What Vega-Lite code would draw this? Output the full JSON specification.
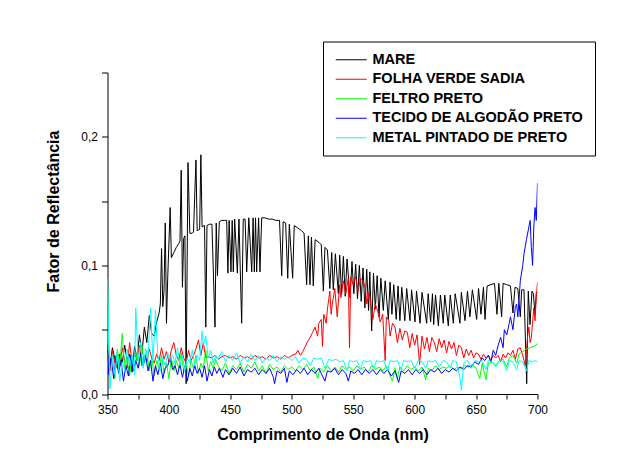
{
  "$schema": "https://vega.github.io/schema/vega-lite/v6.json",
  "width": 430,
  "height": 321.5,
  "autosize": {"type": "none"},
  "padding": {"left": 107.5, "top": 72.5, "right": 89.5, "bottom": 57},
  "background": "white",
  "config": {
    "view": {"stroke": null},
    "font": "Liberation Sans",
    "axis": {"grid": false, "domainColor": "black", "tickColor": "black", "labelColor": "black", "titleColor": "black", "labelFont": "Liberation Sans", "titleFont": "Liberation Sans", "labelFontSize": 12, "titleFontSize": 16, "titleFontWeight": "bold"}
  },
  "data": {"values": [
{"s":"MARE","w":350,"v":0.034},{"s":"MARE","w":352,"v":0.022},{"s":"MARE","w":354,"v":0.036},{"s":"MARE","w":356,"v":0.027},{"s":"MARE","w":358,"v":0.02},{"s":"MARE","w":360,"v":0.031},{"s":"MARE","w":362,"v":0.024},{"s":"MARE","w":364,"v":0.038},{"s":"MARE","w":366,"v":0.026},{"s":"MARE","w":368,"v":0.031},{"s":"MARE","w":370,"v":0.017},{"s":"MARE","w":372,"v":0.037},{"s":"MARE","w":374,"v":0.028},{"s":"MARE","w":376,"v":0.046},{"s":"MARE","w":378,"v":0.031},{"s":"MARE","w":380,"v":0.052},{"s":"MARE","w":382,"v":0.04},{"s":"MARE","w":384,"v":0.061},{"s":"MARE","w":386,"v":0.047},{"s":"MARE","w":388,"v":0.045},{"s":"MARE","w":390,"v":0.056},{"s":"MARE","w":392,"v":0.063},{"s":"MARE","w":393,"v":0.07},{"s":"MARE","w":394,"v":0.113},{"s":"MARE","w":395,"v":0.068},{"s":"MARE","w":396,"v":0.08},{"s":"MARE","w":397,"v":0.133},{"s":"MARE","w":398,"v":0.055},{"s":"MARE","w":399,"v":0.09},{"s":"MARE","w":401,"v":0.145},{"s":"MARE","w":402,"v":0.106},{"s":"MARE","w":404,"v":0.11},{"s":"MARE","w":406,"v":0.114},{"s":"MARE","w":408,"v":0.117},{"s":"MARE","w":409,"v":0.119},{"s":"MARE","w":410,"v":0.174},{"s":"MARE","w":411,"v":0.083},{"s":"MARE","w":412,"v":0.121},{"s":"MARE","w":413,"v":0.123},{"s":"MARE","w":414,"v":0.008},{"s":"MARE","w":415.5,"v":0.18},{"s":"MARE","w":417,"v":0.125},{"s":"MARE","w":419,"v":0.125},{"s":"MARE","w":420,"v":0.126},{"s":"MARE","w":422,"v":0.182},{"s":"MARE","w":423,"v":0.127},{"s":"MARE","w":425,"v":0.128},{"s":"MARE","w":426,"v":0.186},{"s":"MARE","w":427,"v":0.13},{"s":"MARE","w":429,"v":0.131},{"s":"MARE","w":430,"v":0.052},{"s":"MARE","w":431,"v":0.131},{"s":"MARE","w":433,"v":0.132},{"s":"MARE","w":435,"v":0.132},{"s":"MARE","w":437.5,"v":0.052},{"s":"MARE","w":438.5,"v":0.133},{"s":"MARE","w":439.5,"v":0.092},{"s":"MARE","w":441,"v":0.134},{"s":"MARE","w":443,"v":0.135},{"s":"MARE","w":445,"v":0.135},{"s":"MARE","w":447,"v":0.135},{"s":"MARE","w":448,"v":0.094},{"s":"MARE","w":449,"v":0.135},{"s":"MARE","w":450.5,"v":0.095},{"s":"MARE","w":451.5,"v":0.135},{"s":"MARE","w":452.4,"v":0.095},{"s":"MARE","w":453.5,"v":0.136},{"s":"MARE","w":455.7,"v":0.094},{"s":"MARE","w":457,"v":0.136},{"s":"MARE","w":459.2,"v":0.055},{"s":"MARE","w":460.5,"v":0.136},{"s":"MARE","w":462,"v":0.136},{"s":"MARE","w":463.3,"v":0.095},{"s":"MARE","w":465,"v":0.137},{"s":"MARE","w":467.4,"v":0.095},{"s":"MARE","w":468.5,"v":0.137},{"s":"MARE","w":469.5,"v":0.095},{"s":"MARE","w":470.5,"v":0.137},{"s":"MARE","w":471.4,"v":0.095},{"s":"MARE","w":473,"v":0.137},{"s":"MARE","w":474.1,"v":0.095},{"s":"MARE","w":475.5,"v":0.137},{"s":"MARE","w":478,"v":0.137},{"s":"MARE","w":481,"v":0.136},{"s":"MARE","w":484,"v":0.136},{"s":"MARE","w":487,"v":0.135},{"s":"MARE","w":490,"v":0.135},{"s":"MARE","w":491.8,"v":0.092},{"s":"MARE","w":493,"v":0.134},{"s":"MARE","w":495,"v":0.133},{"s":"MARE","w":496.7,"v":0.09},{"s":"MARE","w":498,"v":0.132},{"s":"MARE","w":500.7,"v":0.09},{"s":"MARE","w":502,"v":0.131},{"s":"MARE","w":505,"v":0.129},{"s":"MARE","w":508,"v":0.127},{"s":"MARE","w":510,"v":0.125},{"s":"MARE","w":512.1,"v":0.085},{"s":"MARE","w":513.5,"v":0.123},{"s":"MARE","w":514.8,"v":0.085},{"s":"MARE","w":516,"v":0.122},{"s":"MARE","w":517.5,"v":0.084},{"s":"MARE","w":519,"v":0.12},{"s":"MARE","w":522,"v":0.118},{"s":"MARE","w":524,"v":0.116},{"s":"MARE","w":525.7,"v":0.08},{"s":"MARE","w":527,"v":0.114},{"s":"MARE","w":529,"v":0.112},{"s":"MARE","w":531,"v":0.082},{"s":"MARE","w":532.5,"v":0.11},{"s":"MARE","w":533.8,"v":0.081},{"s":"MARE","w":535.5,"v":0.109},{"s":"MARE","w":537.9,"v":0.078},{"s":"MARE","w":539,"v":0.108},{"s":"MARE","w":540.5,"v":0.077},{"s":"MARE","w":542,"v":0.107},{"s":"MARE","w":543.5,"v":0.076},{"s":"MARE","w":545,"v":0.105},{"s":"MARE","w":547.4,"v":0.075},{"s":"MARE","w":549,"v":0.103},{"s":"MARE","w":550.5,"v":0.078},{"s":"MARE","w":552,"v":0.101},{"s":"MARE","w":553.5,"v":0.074},{"s":"MARE","w":555,"v":0.1},{"s":"MARE","w":556.5,"v":0.072},{"s":"MARE","w":558,"v":0.098},{"s":"MARE","w":559.5,"v":0.067},{"s":"MARE","w":561,"v":0.097},{"s":"MARE","w":562.5,"v":0.065},{"s":"MARE","w":563.5,"v":0.095},{"s":"MARE","w":565,"v":0.049},{"s":"MARE","w":566.5,"v":0.094},{"s":"MARE","w":568,"v":0.066},{"s":"MARE","w":569.5,"v":0.092},{"s":"MARE","w":571,"v":0.06},{"s":"MARE","w":572.5,"v":0.09},{"s":"MARE","w":574.5,"v":0.065},{"s":"MARE","w":576,"v":0.088},{"s":"MARE","w":578.6,"v":0.058},{"s":"MARE","w":580,"v":0.087},{"s":"MARE","w":581.5,"v":0.062},{"s":"MARE","w":583,"v":0.085},{"s":"MARE","w":585,"v":0.058},{"s":"MARE","w":586.5,"v":0.084},{"s":"MARE","w":588,"v":0.057},{"s":"MARE","w":589.5,"v":0.083},{"s":"MARE","w":592,"v":0.057},{"s":"MARE","w":593.5,"v":0.082},{"s":"MARE","w":596.2,"v":0.057},{"s":"MARE","w":597.5,"v":0.081},{"s":"MARE","w":600.3,"v":0.056},{"s":"MARE","w":601.5,"v":0.08},{"s":"MARE","w":604.4,"v":0.055},{"s":"MARE","w":606,"v":0.079},{"s":"MARE","w":609.8,"v":0.055},{"s":"MARE","w":611,"v":0.078},{"s":"MARE","w":613,"v":0.056},{"s":"MARE","w":614.5,"v":0.078},{"s":"MARE","w":615.5,"v":0.054},{"s":"MARE","w":617,"v":0.077},{"s":"MARE","w":619.3,"v":0.053},{"s":"MARE","w":621,"v":0.077},{"s":"MARE","w":623.3,"v":0.055},{"s":"MARE","w":624.5,"v":0.077},{"s":"MARE","w":627.4,"v":0.053},{"s":"MARE","w":629,"v":0.077},{"s":"MARE","w":631.5,"v":0.055},{"s":"MARE","w":633,"v":0.078},{"s":"MARE","w":636.9,"v":0.055},{"s":"MARE","w":638,"v":0.079},{"s":"MARE","w":641,"v":0.057},{"s":"MARE","w":643,"v":0.08},{"s":"MARE","w":645,"v":0.06},{"s":"MARE","w":647,"v":0.081},{"s":"MARE","w":650.5,"v":0.058},{"s":"MARE","w":652,"v":0.082},{"s":"MARE","w":654,"v":0.062},{"s":"MARE","w":656,"v":0.083},{"s":"MARE","w":657.3,"v":0.058},{"s":"MARE","w":659,"v":0.084},{"s":"MARE","w":662,"v":0.085},{"s":"MARE","w":665,"v":0.086},{"s":"MARE","w":667,"v":0.062},{"s":"MARE","w":668.5,"v":0.086},{"s":"MARE","w":670.8,"v":0.06},{"s":"MARE","w":672,"v":0.086},{"s":"MARE","w":675,"v":0.085},{"s":"MARE","w":678,"v":0.084},{"s":"MARE","w":680,"v":0.063},{"s":"MARE","w":681.7,"v":0.083},{"s":"MARE","w":684,"v":0.082},{"s":"MARE","w":686,"v":0.06},{"s":"MARE","w":687.1,"v":0.081},{"s":"MARE","w":689,"v":0.081},{"s":"MARE","w":691.2,"v":0.008},{"s":"MARE","w":692.5,"v":0.08},{"s":"MARE","w":693.9,"v":0.054},{"s":"MARE","w":695.5,"v":0.08},{"s":"MARE","w":696.6,"v":0.078},{"s":"MARE","w":698,"v":0.062},{"s":"MARE","w":699,"v":0.079},{"s":"MARE","w":700,"v":0.079},
{"s":"FOLHA VERDE SADIA","w":350,"v":0.03},{"s":"FOLHA VERDE SADIA","w":352,"v":0.018},{"s":"FOLHA VERDE SADIA","w":354,"v":0.034},{"s":"FOLHA VERDE SADIA","w":356,"v":0.024},{"s":"FOLHA VERDE SADIA","w":358,"v":0.032},{"s":"FOLHA VERDE SADIA","w":360,"v":0.022},{"s":"FOLHA VERDE SADIA","w":362,"v":0.036},{"s":"FOLHA VERDE SADIA","w":364,"v":0.026},{"s":"FOLHA VERDE SADIA","w":366,"v":0.02},{"s":"FOLHA VERDE SADIA","w":368,"v":0.04},{"s":"FOLHA VERDE SADIA","w":370,"v":0.024},{"s":"FOLHA VERDE SADIA","w":372,"v":0.032},{"s":"FOLHA VERDE SADIA","w":374,"v":0.026},{"s":"FOLHA VERDE SADIA","w":376,"v":0.038},{"s":"FOLHA VERDE SADIA","w":378,"v":0.022},{"s":"FOLHA VERDE SADIA","w":380,"v":0.03},{"s":"FOLHA VERDE SADIA","w":382,"v":0.025},{"s":"FOLHA VERDE SADIA","w":384,"v":0.035},{"s":"FOLHA VERDE SADIA","w":386,"v":0.028},{"s":"FOLHA VERDE SADIA","w":388,"v":0.024},{"s":"FOLHA VERDE SADIA","w":390,"v":0.031},{"s":"FOLHA VERDE SADIA","w":392,"v":0.026},{"s":"FOLHA VERDE SADIA","w":394,"v":0.036},{"s":"FOLHA VERDE SADIA","w":396,"v":0.027},{"s":"FOLHA VERDE SADIA","w":398,"v":0.033},{"s":"FOLHA VERDE SADIA","w":400,"v":0.025},{"s":"FOLHA VERDE SADIA","w":402,"v":0.034},{"s":"FOLHA VERDE SADIA","w":404,"v":0.04},{"s":"FOLHA VERDE SADIA","w":406,"v":0.03},{"s":"FOLHA VERDE SADIA","w":408,"v":0.026},{"s":"FOLHA VERDE SADIA","w":410,"v":0.036},{"s":"FOLHA VERDE SADIA","w":412,"v":0.028},{"s":"FOLHA VERDE SADIA","w":414,"v":0.024},{"s":"FOLHA VERDE SADIA","w":416,"v":0.034},{"s":"FOLHA VERDE SADIA","w":418,"v":0.026},{"s":"FOLHA VERDE SADIA","w":420,"v":0.03},{"s":"FOLHA VERDE SADIA","w":422,"v":0.035},{"s":"FOLHA VERDE SADIA","w":424,"v":0.042},{"s":"FOLHA VERDE SADIA","w":426,"v":0.03},{"s":"FOLHA VERDE SADIA","w":428,"v":0.04},{"s":"FOLHA VERDE SADIA","w":430,"v":0.028},{"s":"FOLHA VERDE SADIA","w":432,"v":0.029},{"s":"FOLHA VERDE SADIA","w":435,"v":0.028},{"s":"FOLHA VERDE SADIA","w":437,"v":0.03},{"s":"FOLHA VERDE SADIA","w":440,"v":0.027},{"s":"FOLHA VERDE SADIA","w":443,"v":0.029},{"s":"FOLHA VERDE SADIA","w":446,"v":0.03},{"s":"FOLHA VERDE SADIA","w":449,"v":0.028},{"s":"FOLHA VERDE SADIA","w":452,"v":0.029},{"s":"FOLHA VERDE SADIA","w":455,"v":0.027},{"s":"FOLHA VERDE SADIA","w":458,"v":0.03},{"s":"FOLHA VERDE SADIA","w":461,"v":0.028},{"s":"FOLHA VERDE SADIA","w":464,"v":0.029},{"s":"FOLHA VERDE SADIA","w":467,"v":0.027},{"s":"FOLHA VERDE SADIA","w":470,"v":0.03},{"s":"FOLHA VERDE SADIA","w":473,"v":0.028},{"s":"FOLHA VERDE SADIA","w":476,"v":0.029},{"s":"FOLHA VERDE SADIA","w":479,"v":0.027},{"s":"FOLHA VERDE SADIA","w":482,"v":0.03},{"s":"FOLHA VERDE SADIA","w":485,"v":0.028},{"s":"FOLHA VERDE SADIA","w":488,"v":0.029},{"s":"FOLHA VERDE SADIA","w":491,"v":0.027},{"s":"FOLHA VERDE SADIA","w":494,"v":0.03},{"s":"FOLHA VERDE SADIA","w":497,"v":0.028},{"s":"FOLHA VERDE SADIA","w":500,"v":0.03},{"s":"FOLHA VERDE SADIA","w":503,"v":0.031},{"s":"FOLHA VERDE SADIA","w":505,"v":0.034},{"s":"FOLHA VERDE SADIA","w":507,"v":0.03},{"s":"FOLHA VERDE SADIA","w":509,"v":0.033},{"s":"FOLHA VERDE SADIA","w":511,"v":0.037},{"s":"FOLHA VERDE SADIA","w":513,"v":0.041},{"s":"FOLHA VERDE SADIA","w":515,"v":0.044},{"s":"FOLHA VERDE SADIA","w":517,"v":0.048},{"s":"FOLHA VERDE SADIA","w":519,"v":0.052},{"s":"FOLHA VERDE SADIA","w":521,"v":0.045},{"s":"FOLHA VERDE SADIA","w":522,"v":0.055},{"s":"FOLHA VERDE SADIA","w":524,"v":0.058},{"s":"FOLHA VERDE SADIA","w":525,"v":0.037},{"s":"FOLHA VERDE SADIA","w":526,"v":0.062},{"s":"FOLHA VERDE SADIA","w":528,"v":0.055},{"s":"FOLHA VERDE SADIA","w":529,"v":0.066},{"s":"FOLHA VERDE SADIA","w":531,"v":0.08},{"s":"FOLHA VERDE SADIA","w":532,"v":0.062},{"s":"FOLHA VERDE SADIA","w":533,"v":0.07},{"s":"FOLHA VERDE SADIA","w":535,"v":0.082},{"s":"FOLHA VERDE SADIA","w":537,"v":0.06},{"s":"FOLHA VERDE SADIA","w":539,"v":0.085},{"s":"FOLHA VERDE SADIA","w":540,"v":0.075},{"s":"FOLHA VERDE SADIA","w":542,"v":0.088},{"s":"FOLHA VERDE SADIA","w":544,"v":0.078},{"s":"FOLHA VERDE SADIA","w":546,"v":0.09},{"s":"FOLHA VERDE SADIA","w":547,"v":0.036},{"s":"FOLHA VERDE SADIA","w":548,"v":0.091},{"s":"FOLHA VERDE SADIA","w":550,"v":0.085},{"s":"FOLHA VERDE SADIA","w":552,"v":0.091},{"s":"FOLHA VERDE SADIA","w":554,"v":0.08},{"s":"FOLHA VERDE SADIA","w":556,"v":0.09},{"s":"FOLHA VERDE SADIA","w":558,"v":0.088},{"s":"FOLHA VERDE SADIA","w":560,"v":0.082},{"s":"FOLHA VERDE SADIA","w":561,"v":0.07},{"s":"FOLHA VERDE SADIA","w":563,"v":0.079},{"s":"FOLHA VERDE SADIA","w":564,"v":0.072},{"s":"FOLHA VERDE SADIA","w":566,"v":0.058},{"s":"FOLHA VERDE SADIA","w":568,"v":0.07},{"s":"FOLHA VERDE SADIA","w":570,"v":0.064},{"s":"FOLHA VERDE SADIA","w":572,"v":0.056},{"s":"FOLHA VERDE SADIA","w":574,"v":0.062},{"s":"FOLHA VERDE SADIA","w":576,"v":0.026},{"s":"FOLHA VERDE SADIA","w":577,"v":0.06},{"s":"FOLHA VERDE SADIA","w":579,"v":0.057},{"s":"FOLHA VERDE SADIA","w":580,"v":0.045},{"s":"FOLHA VERDE SADIA","w":582,"v":0.055},{"s":"FOLHA VERDE SADIA","w":584,"v":0.052},{"s":"FOLHA VERDE SADIA","w":586,"v":0.04},{"s":"FOLHA VERDE SADIA","w":588,"v":0.051},{"s":"FOLHA VERDE SADIA","w":590,"v":0.042},{"s":"FOLHA VERDE SADIA","w":592,"v":0.049},{"s":"FOLHA VERDE SADIA","w":594,"v":0.048},{"s":"FOLHA VERDE SADIA","w":596,"v":0.036},{"s":"FOLHA VERDE SADIA","w":598,"v":0.047},{"s":"FOLHA VERDE SADIA","w":600,"v":0.038},{"s":"FOLHA VERDE SADIA","w":602,"v":0.046},{"s":"FOLHA VERDE SADIA","w":604,"v":0.023},{"s":"FOLHA VERDE SADIA","w":606,"v":0.045},{"s":"FOLHA VERDE SADIA","w":608,"v":0.035},{"s":"FOLHA VERDE SADIA","w":610,"v":0.044},{"s":"FOLHA VERDE SADIA","w":612,"v":0.033},{"s":"FOLHA VERDE SADIA","w":614,"v":0.044},{"s":"FOLHA VERDE SADIA","w":616,"v":0.04},{"s":"FOLHA VERDE SADIA","w":618,"v":0.033},{"s":"FOLHA VERDE SADIA","w":620,"v":0.043},{"s":"FOLHA VERDE SADIA","w":622,"v":0.036},{"s":"FOLHA VERDE SADIA","w":624,"v":0.042},{"s":"FOLHA VERDE SADIA","w":626,"v":0.032},{"s":"FOLHA VERDE SADIA","w":628,"v":0.041},{"s":"FOLHA VERDE SADIA","w":630,"v":0.035},{"s":"FOLHA VERDE SADIA","w":632,"v":0.04},{"s":"FOLHA VERDE SADIA","w":634,"v":0.03},{"s":"FOLHA VERDE SADIA","w":636,"v":0.038},{"s":"FOLHA VERDE SADIA","w":638,"v":0.036},{"s":"FOLHA VERDE SADIA","w":640,"v":0.028},{"s":"FOLHA VERDE SADIA","w":642,"v":0.035},{"s":"FOLHA VERDE SADIA","w":644,"v":0.03},{"s":"FOLHA VERDE SADIA","w":646,"v":0.034},{"s":"FOLHA VERDE SADIA","w":648,"v":0.028},{"s":"FOLHA VERDE SADIA","w":650,"v":0.032},{"s":"FOLHA VERDE SADIA","w":652,"v":0.031},{"s":"FOLHA VERDE SADIA","w":654,"v":0.027},{"s":"FOLHA VERDE SADIA","w":656,"v":0.031},{"s":"FOLHA VERDE SADIA","w":658,"v":0.028},{"s":"FOLHA VERDE SADIA","w":660,"v":0.03},{"s":"FOLHA VERDE SADIA","w":662,"v":0.026},{"s":"FOLHA VERDE SADIA","w":664,"v":0.03},{"s":"FOLHA VERDE SADIA","w":666,"v":0.028},{"s":"FOLHA VERDE SADIA","w":668,"v":0.03},{"s":"FOLHA VERDE SADIA","w":670,"v":0.025},{"s":"FOLHA VERDE SADIA","w":672,"v":0.031},{"s":"FOLHA VERDE SADIA","w":674,"v":0.028},{"s":"FOLHA VERDE SADIA","w":676,"v":0.032},{"s":"FOLHA VERDE SADIA","w":678,"v":0.03},{"s":"FOLHA VERDE SADIA","w":680,"v":0.034},{"s":"FOLHA VERDE SADIA","w":682,"v":0.027},{"s":"FOLHA VERDE SADIA","w":684,"v":0.035},{"s":"FOLHA VERDE SADIA","w":686,"v":0.036},{"s":"FOLHA VERDE SADIA","w":688,"v":0.03},{"s":"FOLHA VERDE SADIA","w":690,"v":0.022},{"s":"FOLHA VERDE SADIA","w":692,"v":0.045},{"s":"FOLHA VERDE SADIA","w":693,"v":0.052},{"s":"FOLHA VERDE SADIA","w":694,"v":0.04},{"s":"FOLHA VERDE SADIA","w":695,"v":0.044},{"s":"FOLHA VERDE SADIA","w":697,"v":0.067},{"s":"FOLHA VERDE SADIA","w":698,"v":0.057},{"s":"FOLHA VERDE SADIA","w":699,"v":0.075},{"s":"FOLHA VERDE SADIA","w":700,"v":0.087},
{"s":"FELTRO PRETO","w":350,"v":0.088},{"s":"FELTRO PRETO","w":351,"v":0.04},{"s":"FELTRO PRETO","w":352,"v":0.02},{"s":"FELTRO PRETO","w":354,"v":0.03},{"s":"FELTRO PRETO","w":356,"v":0.012},{"s":"FELTRO PRETO","w":358,"v":0.035},{"s":"FELTRO PRETO","w":360,"v":0.022},{"s":"FELTRO PRETO","w":362,"v":0.047},{"s":"FELTRO PRETO","w":364,"v":0.02},{"s":"FELTRO PRETO","w":366,"v":0.028},{"s":"FELTRO PRETO","w":368,"v":0.014},{"s":"FELTRO PRETO","w":370,"v":0.03},{"s":"FELTRO PRETO","w":372,"v":0.018},{"s":"FELTRO PRETO","w":374,"v":0.032},{"s":"FELTRO PRETO","w":376,"v":0.022},{"s":"FELTRO PRETO","w":378,"v":0.038},{"s":"FELTRO PRETO","w":380,"v":0.024},{"s":"FELTRO PRETO","w":382,"v":0.034},{"s":"FELTRO PRETO","w":384,"v":0.018},{"s":"FELTRO PRETO","w":386,"v":0.028},{"s":"FELTRO PRETO","w":388,"v":0.014},{"s":"FELTRO PRETO","w":390,"v":0.026},{"s":"FELTRO PRETO","w":392,"v":0.02},{"s":"FELTRO PRETO","w":394,"v":0.03},{"s":"FELTRO PRETO","w":396,"v":0.016},{"s":"FELTRO PRETO","w":398,"v":0.024},{"s":"FELTRO PRETO","w":400,"v":0.012},{"s":"FELTRO PRETO","w":402,"v":0.028},{"s":"FELTRO PRETO","w":404,"v":0.018},{"s":"FELTRO PRETO","w":406,"v":0.026},{"s":"FELTRO PRETO","w":408,"v":0.02},{"s":"FELTRO PRETO","w":410,"v":0.032},{"s":"FELTRO PRETO","w":412,"v":0.018},{"s":"FELTRO PRETO","w":414,"v":0.024},{"s":"FELTRO PRETO","w":416,"v":0.014},{"s":"FELTRO PRETO","w":418,"v":0.026},{"s":"FELTRO PRETO","w":420,"v":0.02},{"s":"FELTRO PRETO","w":422,"v":0.03},{"s":"FELTRO PRETO","w":424,"v":0.016},{"s":"FELTRO PRETO","w":426,"v":0.024},{"s":"FELTRO PRETO","w":428,"v":0.02},{"s":"FELTRO PRETO","w":430,"v":0.034},{"s":"FELTRO PRETO","w":432,"v":0.018},{"s":"FELTRO PRETO","w":434,"v":0.025},{"s":"FELTRO PRETO","w":436,"v":0.02},{"s":"FELTRO PRETO","w":438,"v":0.027},{"s":"FELTRO PRETO","w":440,"v":0.022},{"s":"FELTRO PRETO","w":443,"v":0.018},{"s":"FELTRO PRETO","w":446,"v":0.024},{"s":"FELTRO PRETO","w":449,"v":0.016},{"s":"FELTRO PRETO","w":452,"v":0.022},{"s":"FELTRO PRETO","w":455,"v":0.019},{"s":"FELTRO PRETO","w":458,"v":0.024},{"s":"FELTRO PRETO","w":461,"v":0.017},{"s":"FELTRO PRETO","w":464,"v":0.023},{"s":"FELTRO PRETO","w":467,"v":0.02},{"s":"FELTRO PRETO","w":470,"v":0.025},{"s":"FELTRO PRETO","w":473,"v":0.018},{"s":"FELTRO PRETO","w":476,"v":0.022},{"s":"FELTRO PRETO","w":479,"v":0.016},{"s":"FELTRO PRETO","w":482,"v":0.023},{"s":"FELTRO PRETO","w":485,"v":0.019},{"s":"FELTRO PRETO","w":488,"v":0.021},{"s":"FELTRO PRETO","w":491,"v":0.017},{"s":"FELTRO PRETO","w":494,"v":0.022},{"s":"FELTRO PRETO","w":497,"v":0.019},{"s":"FELTRO PRETO","w":500,"v":0.021},{"s":"FELTRO PRETO","w":503,"v":0.018},{"s":"FELTRO PRETO","w":506,"v":0.022},{"s":"FELTRO PRETO","w":509,"v":0.019},{"s":"FELTRO PRETO","w":512,"v":0.023},{"s":"FELTRO PRETO","w":515,"v":0.018},{"s":"FELTRO PRETO","w":518,"v":0.021},{"s":"FELTRO PRETO","w":521,"v":0.012},{"s":"FELTRO PRETO","w":523,"v":0.02},{"s":"FELTRO PRETO","w":526,"v":0.017},{"s":"FELTRO PRETO","w":529,"v":0.022},{"s":"FELTRO PRETO","w":532,"v":0.018},{"s":"FELTRO PRETO","w":535,"v":0.021},{"s":"FELTRO PRETO","w":538,"v":0.017},{"s":"FELTRO PRETO","w":541,"v":0.022},{"s":"FELTRO PRETO","w":544,"v":0.019},{"s":"FELTRO PRETO","w":547,"v":0.021},{"s":"FELTRO PRETO","w":550,"v":0.018},{"s":"FELTRO PRETO","w":553,"v":0.022},{"s":"FELTRO PRETO","w":556,"v":0.019},{"s":"FELTRO PRETO","w":559,"v":0.021},{"s":"FELTRO PRETO","w":562,"v":0.017},{"s":"FELTRO PRETO","w":565,"v":0.022},{"s":"FELTRO PRETO","w":568,"v":0.019},{"s":"FELTRO PRETO","w":571,"v":0.021},{"s":"FELTRO PRETO","w":574,"v":0.018},{"s":"FELTRO PRETO","w":577,"v":0.022},{"s":"FELTRO PRETO","w":580,"v":0.014},{"s":"FELTRO PRETO","w":582,"v":0.01},{"s":"FELTRO PRETO","w":584,"v":0.02},{"s":"FELTRO PRETO","w":586,"v":0.012},{"s":"FELTRO PRETO","w":588,"v":0.021},{"s":"FELTRO PRETO","w":591,"v":0.018},{"s":"FELTRO PRETO","w":594,"v":0.022},{"s":"FELTRO PRETO","w":597,"v":0.019},{"s":"FELTRO PRETO","w":600,"v":0.021},{"s":"FELTRO PRETO","w":603,"v":0.018},{"s":"FELTRO PRETO","w":606,"v":0.021},{"s":"FELTRO PRETO","w":609,"v":0.011},{"s":"FELTRO PRETO","w":611,"v":0.02},{"s":"FELTRO PRETO","w":614,"v":0.018},{"s":"FELTRO PRETO","w":617,"v":0.022},{"s":"FELTRO PRETO","w":620,"v":0.019},{"s":"FELTRO PRETO","w":623,"v":0.021},{"s":"FELTRO PRETO","w":626,"v":0.02},{"s":"FELTRO PRETO","w":629,"v":0.022},{"s":"FELTRO PRETO","w":632,"v":0.019},{"s":"FELTRO PRETO","w":635,"v":0.021},{"s":"FELTRO PRETO","w":638,"v":0.02},{"s":"FELTRO PRETO","w":641,"v":0.022},{"s":"FELTRO PRETO","w":644,"v":0.021},{"s":"FELTRO PRETO","w":647,"v":0.023},{"s":"FELTRO PRETO","w":650,"v":0.02},{"s":"FELTRO PRETO","w":653,"v":0.012},{"s":"FELTRO PRETO","w":655,"v":0.024},{"s":"FELTRO PRETO","w":658,"v":0.011},{"s":"FELTRO PRETO","w":660,"v":0.024},{"s":"FELTRO PRETO","w":663,"v":0.025},{"s":"FELTRO PRETO","w":666,"v":0.022},{"s":"FELTRO PRETO","w":669,"v":0.026},{"s":"FELTRO PRETO","w":672,"v":0.027},{"s":"FELTRO PRETO","w":675,"v":0.021},{"s":"FELTRO PRETO","w":677,"v":0.028},{"s":"FELTRO PRETO","w":680,"v":0.03},{"s":"FELTRO PRETO","w":683,"v":0.024},{"s":"FELTRO PRETO","w":685,"v":0.031},{"s":"FELTRO PRETO","w":688,"v":0.033},{"s":"FELTRO PRETO","w":691,"v":0.035},{"s":"FELTRO PRETO","w":694,"v":0.036},{"s":"FELTRO PRETO","w":697,"v":0.037},{"s":"FELTRO PRETO","w":700,"v":0.039},
{"s":"TECIDO DE ALGODÃO PRETO","w":350,"v":0.038},{"s":"TECIDO DE ALGODÃO PRETO","w":351,"v":0.015},{"s":"TECIDO DE ALGODÃO PRETO","w":353,"v":0.028},{"s":"TECIDO DE ALGODÃO PRETO","w":355,"v":0.012},{"s":"TECIDO DE ALGODÃO PRETO","w":357,"v":0.03},{"s":"TECIDO DE ALGODÃO PRETO","w":359,"v":0.016},{"s":"TECIDO DE ALGODÃO PRETO","w":361,"v":0.026},{"s":"TECIDO DE ALGODÃO PRETO","w":363,"v":0.01},{"s":"TECIDO DE ALGODÃO PRETO","w":365,"v":0.022},{"s":"TECIDO DE ALGODÃO PRETO","w":367,"v":0.014},{"s":"TECIDO DE ALGODÃO PRETO","w":369,"v":0.03},{"s":"TECIDO DE ALGODÃO PRETO","w":371,"v":0.018},{"s":"TECIDO DE ALGODÃO PRETO","w":373,"v":0.026},{"s":"TECIDO DE ALGODÃO PRETO","w":375,"v":0.02},{"s":"TECIDO DE ALGODÃO PRETO","w":377,"v":0.032},{"s":"TECIDO DE ALGODÃO PRETO","w":379,"v":0.022},{"s":"TECIDO DE ALGODÃO PRETO","w":381,"v":0.03},{"s":"TECIDO DE ALGODÃO PRETO","w":383,"v":0.018},{"s":"TECIDO DE ALGODÃO PRETO","w":385,"v":0.026},{"s":"TECIDO DE ALGODÃO PRETO","w":387,"v":0.01},{"s":"TECIDO DE ALGODÃO PRETO","w":389,"v":0.022},{"s":"TECIDO DE ALGODÃO PRETO","w":391,"v":0.015},{"s":"TECIDO DE ALGODÃO PRETO","w":393,"v":0.024},{"s":"TECIDO DE ALGODÃO PRETO","w":395,"v":0.012},{"s":"TECIDO DE ALGODÃO PRETO","w":397,"v":0.02},{"s":"TECIDO DE ALGODÃO PRETO","w":399,"v":0.022},{"s":"TECIDO DE ALGODÃO PRETO","w":401,"v":0.028},{"s":"TECIDO DE ALGODÃO PRETO","w":403,"v":0.019},{"s":"TECIDO DE ALGODÃO PRETO","w":405,"v":0.022},{"s":"TECIDO DE ALGODÃO PRETO","w":407,"v":0.015},{"s":"TECIDO DE ALGODÃO PRETO","w":409,"v":0.023},{"s":"TECIDO DE ALGODÃO PRETO","w":411,"v":0.013},{"s":"TECIDO DE ALGODÃO PRETO","w":413,"v":0.022},{"s":"TECIDO DE ALGODÃO PRETO","w":415,"v":0.01},{"s":"TECIDO DE ALGODÃO PRETO","w":417,"v":0.02},{"s":"TECIDO DE ALGODÃO PRETO","w":419,"v":0.014},{"s":"TECIDO DE ALGODÃO PRETO","w":421,"v":0.022},{"s":"TECIDO DE ALGODÃO PRETO","w":423,"v":0.016},{"s":"TECIDO DE ALGODÃO PRETO","w":425,"v":0.02},{"s":"TECIDO DE ALGODÃO PRETO","w":427,"v":0.013},{"s":"TECIDO DE ALGODÃO PRETO","w":429,"v":0.022},{"s":"TECIDO DE ALGODÃO PRETO","w":431,"v":0.01},{"s":"TECIDO DE ALGODÃO PRETO","w":433,"v":0.019},{"s":"TECIDO DE ALGODÃO PRETO","w":435,"v":0.014},{"s":"TECIDO DE ALGODÃO PRETO","w":437,"v":0.021},{"s":"TECIDO DE ALGODÃO PRETO","w":439,"v":0.016},{"s":"TECIDO DE ALGODÃO PRETO","w":441,"v":0.02},{"s":"TECIDO DE ALGODÃO PRETO","w":444,"v":0.013},{"s":"TECIDO DE ALGODÃO PRETO","w":446,"v":0.019},{"s":"TECIDO DE ALGODÃO PRETO","w":449,"v":0.015},{"s":"TECIDO DE ALGODÃO PRETO","w":452,"v":0.02},{"s":"TECIDO DE ALGODÃO PRETO","w":455,"v":0.016},{"s":"TECIDO DE ALGODÃO PRETO","w":458,"v":0.021},{"s":"TECIDO DE ALGODÃO PRETO","w":461,"v":0.014},{"s":"TECIDO DE ALGODÃO PRETO","w":464,"v":0.019},{"s":"TECIDO DE ALGODÃO PRETO","w":467,"v":0.017},{"s":"TECIDO DE ALGODÃO PRETO","w":470,"v":0.02},{"s":"TECIDO DE ALGODÃO PRETO","w":473,"v":0.015},{"s":"TECIDO DE ALGODÃO PRETO","w":476,"v":0.019},{"s":"TECIDO DE ALGODÃO PRETO","w":479,"v":0.016},{"s":"TECIDO DE ALGODÃO PRETO","w":482,"v":0.02},{"s":"TECIDO DE ALGODÃO PRETO","w":485,"v":0.013},{"s":"TECIDO DE ALGODÃO PRETO","w":486,"v":0.008},{"s":"TECIDO DE ALGODÃO PRETO","w":488,"v":0.018},{"s":"TECIDO DE ALGODÃO PRETO","w":491,"v":0.016},{"s":"TECIDO DE ALGODÃO PRETO","w":494,"v":0.02},{"s":"TECIDO DE ALGODÃO PRETO","w":496,"v":0.009},{"s":"TECIDO DE ALGODÃO PRETO","w":498,"v":0.018},{"s":"TECIDO DE ALGODÃO PRETO","w":501,"v":0.015},{"s":"TECIDO DE ALGODÃO PRETO","w":504,"v":0.019},{"s":"TECIDO DE ALGODÃO PRETO","w":507,"v":0.016},{"s":"TECIDO DE ALGODÃO PRETO","w":510,"v":0.02},{"s":"TECIDO DE ALGODÃO PRETO","w":513,"v":0.015},{"s":"TECIDO DE ALGODÃO PRETO","w":516,"v":0.019},{"s":"TECIDO DE ALGODÃO PRETO","w":519,"v":0.016},{"s":"TECIDO DE ALGODÃO PRETO","w":522,"v":0.02},{"s":"TECIDO DE ALGODÃO PRETO","w":525,"v":0.014},{"s":"TECIDO DE ALGODÃO PRETO","w":527,"v":0.01},{"s":"TECIDO DE ALGODÃO PRETO","w":529,"v":0.018},{"s":"TECIDO DE ALGODÃO PRETO","w":532,"v":0.017},{"s":"TECIDO DE ALGODÃO PRETO","w":535,"v":0.02},{"s":"TECIDO DE ALGODÃO PRETO","w":538,"v":0.015},{"s":"TECIDO DE ALGODÃO PRETO","w":541,"v":0.019},{"s":"TECIDO DE ALGODÃO PRETO","w":544,"v":0.016},{"s":"TECIDO DE ALGODÃO PRETO","w":546,"v":0.01},{"s":"TECIDO DE ALGODÃO PRETO","w":548,"v":0.018},{"s":"TECIDO DE ALGODÃO PRETO","w":551,"v":0.016},{"s":"TECIDO DE ALGODÃO PRETO","w":554,"v":0.019},{"s":"TECIDO DE ALGODÃO PRETO","w":557,"v":0.015},{"s":"TECIDO DE ALGODÃO PRETO","w":560,"v":0.019},{"s":"TECIDO DE ALGODÃO PRETO","w":563,"v":0.016},{"s":"TECIDO DE ALGODÃO PRETO","w":566,"v":0.019},{"s":"TECIDO DE ALGODÃO PRETO","w":569,"v":0.015},{"s":"TECIDO DE ALGODÃO PRETO","w":572,"v":0.019},{"s":"TECIDO DE ALGODÃO PRETO","w":575,"v":0.016},{"s":"TECIDO DE ALGODÃO PRETO","w":578,"v":0.019},{"s":"TECIDO DE ALGODÃO PRETO","w":581,"v":0.014},{"s":"TECIDO DE ALGODÃO PRETO","w":584,"v":0.018},{"s":"TECIDO DE ALGODÃO PRETO","w":587,"v":0.009},{"s":"TECIDO DE ALGODÃO PRETO","w":589,"v":0.018},{"s":"TECIDO DE ALGODÃO PRETO","w":592,"v":0.016},{"s":"TECIDO DE ALGODÃO PRETO","w":595,"v":0.019},{"s":"TECIDO DE ALGODÃO PRETO","w":598,"v":0.015},{"s":"TECIDO DE ALGODÃO PRETO","w":601,"v":0.019},{"s":"TECIDO DE ALGODÃO PRETO","w":604,"v":0.016},{"s":"TECIDO DE ALGODÃO PRETO","w":607,"v":0.019},{"s":"TECIDO DE ALGODÃO PRETO","w":610,"v":0.015},{"s":"TECIDO DE ALGODÃO PRETO","w":613,"v":0.019},{"s":"TECIDO DE ALGODÃO PRETO","w":616,"v":0.017},{"s":"TECIDO DE ALGODÃO PRETO","w":619,"v":0.02},{"s":"TECIDO DE ALGODÃO PRETO","w":622,"v":0.016},{"s":"TECIDO DE ALGODÃO PRETO","w":625,"v":0.019},{"s":"TECIDO DE ALGODÃO PRETO","w":628,"v":0.017},{"s":"TECIDO DE ALGODÃO PRETO","w":631,"v":0.02},{"s":"TECIDO DE ALGODÃO PRETO","w":634,"v":0.018},{"s":"TECIDO DE ALGODÃO PRETO","w":637,"v":0.021},{"s":"TECIDO DE ALGODÃO PRETO","w":640,"v":0.019},{"s":"TECIDO DE ALGODÃO PRETO","w":643,"v":0.022},{"s":"TECIDO DE ALGODÃO PRETO","w":646,"v":0.021},{"s":"TECIDO DE ALGODÃO PRETO","w":649,"v":0.025},{"s":"TECIDO DE ALGODÃO PRETO","w":652,"v":0.023},{"s":"TECIDO DE ALGODÃO PRETO","w":655,"v":0.028},{"s":"TECIDO DE ALGODÃO PRETO","w":657,"v":0.026},{"s":"TECIDO DE ALGODÃO PRETO","w":660,"v":0.03},{"s":"TECIDO DE ALGODÃO PRETO","w":662,"v":0.025},{"s":"TECIDO DE ALGODÃO PRETO","w":664,"v":0.034},{"s":"TECIDO DE ALGODÃO PRETO","w":666,"v":0.03},{"s":"TECIDO DE ALGODÃO PRETO","w":668,"v":0.038},{"s":"TECIDO DE ALGODÃO PRETO","w":670,"v":0.044},{"s":"TECIDO DE ALGODÃO PRETO","w":672,"v":0.036},{"s":"TECIDO DE ALGODÃO PRETO","w":673,"v":0.05},{"s":"TECIDO DE ALGODÃO PRETO","w":675,"v":0.046},{"s":"TECIDO DE ALGODÃO PRETO","w":677,"v":0.055},{"s":"TECIDO DE ALGODÃO PRETO","w":678,"v":0.06},{"s":"TECIDO DE ALGODÃO PRETO","w":680,"v":0.05},{"s":"TECIDO DE ALGODÃO PRETO","w":682,"v":0.068},{"s":"TECIDO DE ALGODÃO PRETO","w":683,"v":0.07},{"s":"TECIDO DE ALGODÃO PRETO","w":684,"v":0.06},{"s":"TECIDO DE ALGODÃO PRETO","w":686,"v":0.088},{"s":"TECIDO DE ALGODÃO PRETO","w":688,"v":0.1},{"s":"TECIDO DE ALGODÃO PRETO","w":689,"v":0.109},{"s":"TECIDO DE ALGODÃO PRETO","w":691,"v":0.12},{"s":"TECIDO DE ALGODÃO PRETO","w":693,"v":0.13},{"s":"TECIDO DE ALGODÃO PRETO","w":694,"v":0.135},{"s":"TECIDO DE ALGODÃO PRETO","w":695,"v":0.114},{"s":"TECIDO DE ALGODÃO PRETO","w":696,"v":0.1},{"s":"TECIDO DE ALGODÃO PRETO","w":697,"v":0.13},{"s":"TECIDO DE ALGODÃO PRETO","w":698,"v":0.145},{"s":"TECIDO DE ALGODÃO PRETO","w":699,"v":0.135},{"s":"TECIDO DE ALGODÃO PRETO","w":700,"v":0.164},
{"s":"METAL PINTADO DE PRETO","w":350,"v":0.09},{"s":"METAL PINTADO DE PRETO","w":351,"v":0.04},{"s":"METAL PINTADO DE PRETO","w":352,"v":0.004},{"s":"METAL PINTADO DE PRETO","w":354,"v":0.03},{"s":"METAL PINTADO DE PRETO","w":356,"v":0.015},{"s":"METAL PINTADO DE PRETO","w":358,"v":0.034},{"s":"METAL PINTADO DE PRETO","w":360,"v":0.01},{"s":"METAL PINTADO DE PRETO","w":362,"v":0.025},{"s":"METAL PINTADO DE PRETO","w":364,"v":0.018},{"s":"METAL PINTADO DE PRETO","w":366,"v":0.035},{"s":"METAL PINTADO DE PRETO","w":368,"v":0.022},{"s":"METAL PINTADO DE PRETO","w":370,"v":0.03},{"s":"METAL PINTADO DE PRETO","w":372,"v":0.015},{"s":"METAL PINTADO DE PRETO","w":373,"v":0.067},{"s":"METAL PINTADO DE PRETO","w":375,"v":0.025},{"s":"METAL PINTADO DE PRETO","w":377,"v":0.04},{"s":"METAL PINTADO DE PRETO","w":379,"v":0.02},{"s":"METAL PINTADO DE PRETO","w":381,"v":0.035},{"s":"METAL PINTADO DE PRETO","w":383,"v":0.028},{"s":"METAL PINTADO DE PRETO","w":385,"v":0.067},{"s":"METAL PINTADO DE PRETO","w":387,"v":0.025},{"s":"METAL PINTADO DE PRETO","w":389,"v":0.065},{"s":"METAL PINTADO DE PRETO","w":391,"v":0.03},{"s":"METAL PINTADO DE PRETO","w":393,"v":0.018},{"s":"METAL PINTADO DE PRETO","w":395,"v":0.028},{"s":"METAL PINTADO DE PRETO","w":397,"v":0.022},{"s":"METAL PINTADO DE PRETO","w":399,"v":0.032},{"s":"METAL PINTADO DE PRETO","w":401,"v":0.026},{"s":"METAL PINTADO DE PRETO","w":403,"v":0.03},{"s":"METAL PINTADO DE PRETO","w":405,"v":0.024},{"s":"METAL PINTADO DE PRETO","w":407,"v":0.036},{"s":"METAL PINTADO DE PRETO","w":409,"v":0.022},{"s":"METAL PINTADO DE PRETO","w":411,"v":0.03},{"s":"METAL PINTADO DE PRETO","w":413,"v":0.018},{"s":"METAL PINTADO DE PRETO","w":415,"v":0.028},{"s":"METAL PINTADO DE PRETO","w":417,"v":0.024},{"s":"METAL PINTADO DE PRETO","w":419,"v":0.034},{"s":"METAL PINTADO DE PRETO","w":421,"v":0.022},{"s":"METAL PINTADO DE PRETO","w":423,"v":0.03},{"s":"METAL PINTADO DE PRETO","w":425,"v":0.026},{"s":"METAL PINTADO DE PRETO","w":427,"v":0.049},{"s":"METAL PINTADO DE PRETO","w":428,"v":0.038},{"s":"METAL PINTADO DE PRETO","w":430,"v":0.045},{"s":"METAL PINTADO DE PRETO","w":432,"v":0.028},{"s":"METAL PINTADO DE PRETO","w":434,"v":0.034},{"s":"METAL PINTADO DE PRETO","w":436,"v":0.024},{"s":"METAL PINTADO DE PRETO","w":438,"v":0.03},{"s":"METAL PINTADO DE PRETO","w":440,"v":0.027},{"s":"METAL PINTADO DE PRETO","w":443,"v":0.033},{"s":"METAL PINTADO DE PRETO","w":446,"v":0.025},{"s":"METAL PINTADO DE PRETO","w":449,"v":0.03},{"s":"METAL PINTADO DE PRETO","w":452,"v":0.026},{"s":"METAL PINTADO DE PRETO","w":455,"v":0.032},{"s":"METAL PINTADO DE PRETO","w":458,"v":0.024},{"s":"METAL PINTADO DE PRETO","w":461,"v":0.029},{"s":"METAL PINTADO DE PRETO","w":464,"v":0.025},{"s":"METAL PINTADO DE PRETO","w":467,"v":0.031},{"s":"METAL PINTADO DE PRETO","w":470,"v":0.026},{"s":"METAL PINTADO DE PRETO","w":473,"v":0.03},{"s":"METAL PINTADO DE PRETO","w":476,"v":0.024},{"s":"METAL PINTADO DE PRETO","w":479,"v":0.028},{"s":"METAL PINTADO DE PRETO","w":482,"v":0.026},{"s":"METAL PINTADO DE PRETO","w":485,"v":0.03},{"s":"METAL PINTADO DE PRETO","w":488,"v":0.025},{"s":"METAL PINTADO DE PRETO","w":491,"v":0.029},{"s":"METAL PINTADO DE PRETO","w":494,"v":0.027},{"s":"METAL PINTADO DE PRETO","w":497,"v":0.029},{"s":"METAL PINTADO DE PRETO","w":500,"v":0.026},{"s":"METAL PINTADO DE PRETO","w":503,"v":0.029},{"s":"METAL PINTADO DE PRETO","w":506,"v":0.024},{"s":"METAL PINTADO DE PRETO","w":509,"v":0.028},{"s":"METAL PINTADO DE PRETO","w":512,"v":0.027},{"s":"METAL PINTADO DE PRETO","w":515,"v":0.022},{"s":"METAL PINTADO DE PRETO","w":518,"v":0.028},{"s":"METAL PINTADO DE PRETO","w":521,"v":0.027},{"s":"METAL PINTADO DE PRETO","w":524,"v":0.028},{"s":"METAL PINTADO DE PRETO","w":527,"v":0.02},{"s":"METAL PINTADO DE PRETO","w":530,"v":0.027},{"s":"METAL PINTADO DE PRETO","w":533,"v":0.026},{"s":"METAL PINTADO DE PRETO","w":536,"v":0.027},{"s":"METAL PINTADO DE PRETO","w":539,"v":0.025},{"s":"METAL PINTADO DE PRETO","w":542,"v":0.026},{"s":"METAL PINTADO DE PRETO","w":545,"v":0.018},{"s":"METAL PINTADO DE PRETO","w":547,"v":0.026},{"s":"METAL PINTADO DE PRETO","w":550,"v":0.025},{"s":"METAL PINTADO DE PRETO","w":553,"v":0.026},{"s":"METAL PINTADO DE PRETO","w":556,"v":0.019},{"s":"METAL PINTADO DE PRETO","w":558,"v":0.026},{"s":"METAL PINTADO DE PRETO","w":561,"v":0.025},{"s":"METAL PINTADO DE PRETO","w":564,"v":0.026},{"s":"METAL PINTADO DE PRETO","w":567,"v":0.02},{"s":"METAL PINTADO DE PRETO","w":569,"v":0.026},{"s":"METAL PINTADO DE PRETO","w":572,"v":0.025},{"s":"METAL PINTADO DE PRETO","w":575,"v":0.026},{"s":"METAL PINTADO DE PRETO","w":578,"v":0.018},{"s":"METAL PINTADO DE PRETO","w":580,"v":0.026},{"s":"METAL PINTADO DE PRETO","w":583,"v":0.025},{"s":"METAL PINTADO DE PRETO","w":586,"v":0.026},{"s":"METAL PINTADO DE PRETO","w":589,"v":0.019},{"s":"METAL PINTADO DE PRETO","w":591,"v":0.026},{"s":"METAL PINTADO DE PRETO","w":594,"v":0.025},{"s":"METAL PINTADO DE PRETO","w":597,"v":0.026},{"s":"METAL PINTADO DE PRETO","w":600,"v":0.02},{"s":"METAL PINTADO DE PRETO","w":603,"v":0.026},{"s":"METAL PINTADO DE PRETO","w":606,"v":0.025},{"s":"METAL PINTADO DE PRETO","w":609,"v":0.02},{"s":"METAL PINTADO DE PRETO","w":611,"v":0.026},{"s":"METAL PINTADO DE PRETO","w":614,"v":0.025},{"s":"METAL PINTADO DE PRETO","w":617,"v":0.026},{"s":"METAL PINTADO DE PRETO","w":620,"v":0.021},{"s":"METAL PINTADO DE PRETO","w":623,"v":0.026},{"s":"METAL PINTADO DE PRETO","w":626,"v":0.025},{"s":"METAL PINTADO DE PRETO","w":629,"v":0.02},{"s":"METAL PINTADO DE PRETO","w":631,"v":0.026},{"s":"METAL PINTADO DE PRETO","w":634,"v":0.025},{"s":"METAL PINTADO DE PRETO","w":637,"v":0.012},{"s":"METAL PINTADO DE PRETO","w":638,"v":0.003},{"s":"METAL PINTADO DE PRETO","w":640,"v":0.024},{"s":"METAL PINTADO DE PRETO","w":643,"v":0.026},{"s":"METAL PINTADO DE PRETO","w":646,"v":0.02},{"s":"METAL PINTADO DE PRETO","w":649,"v":0.026},{"s":"METAL PINTADO DE PRETO","w":652,"v":0.025},{"s":"METAL PINTADO DE PRETO","w":655,"v":0.026},{"s":"METAL PINTADO DE PRETO","w":658,"v":0.019},{"s":"METAL PINTADO DE PRETO","w":660,"v":0.026},{"s":"METAL PINTADO DE PRETO","w":663,"v":0.025},{"s":"METAL PINTADO DE PRETO","w":666,"v":0.021},{"s":"METAL PINTADO DE PRETO","w":669,"v":0.026},{"s":"METAL PINTADO DE PRETO","w":672,"v":0.025},{"s":"METAL PINTADO DE PRETO","w":675,"v":0.018},{"s":"METAL PINTADO DE PRETO","w":677,"v":0.026},{"s":"METAL PINTADO DE PRETO","w":680,"v":0.025},{"s":"METAL PINTADO DE PRETO","w":683,"v":0.019},{"s":"METAL PINTADO DE PRETO","w":685,"v":0.026},{"s":"METAL PINTADO DE PRETO","w":688,"v":0.025},{"s":"METAL PINTADO DE PRETO","w":691,"v":0.018},{"s":"METAL PINTADO DE PRETO","w":693,"v":0.026},{"s":"METAL PINTADO DE PRETO","w":696,"v":0.025},{"s":"METAL PINTADO DE PRETO","w":698,"v":0.026},{"s":"METAL PINTADO DE PRETO","w":700,"v":0.025}
  ]},
  "mark": {"type": "line", "strokeWidth": 1, "clip": true},
  "encoding": {
    "x": {"field": "w", "type": "quantitative", "scale": {"domain": [350, 700], "nice": false, "zero": false},
      "axis": {"title": "Comprimento de Onda (nm)", "values": [350,375,400,425,450,475,500,525,550,575,600,625,650,675,700], "format": "d", "labelExpr": "datum.value % 50 == 0 ? datum.label : ''", "tickSize": 5, "labelPadding": 5, "labelFlush": false, "labelOverlap": false, "titleBaseline": "alphabetic", "titleY": 45.5}},
    "y": {"field": "v", "type": "quantitative", "scale": {"domain": [0, 0.25], "nice": false},
      "axis": {"title": "Fator de Reflectância", "values": [0, 0.05, 0.1, 0.15, 0.2, 0.25], "labelExpr": "datum.value == 0 ? '0,0' : datum.value == 0.1 ? '0,1' : datum.value == 0.2 ? '0,2' : ''", "tickSize": 6, "labelPadding": 4, "labelFlush": false, "labelOverlap": false, "titleBaseline": "alphabetic", "titleX": -49, "titleY": 138.5, "titleAlign": "center"}},
    "color": {"field": "s", "type": "nominal",
      "scale": {"domain": ["MARE", "FOLHA VERDE SADIA", "FELTRO PRETO", "TECIDO DE ALGODÃO PRETO", "METAL PINTADO DE PRETO"], "range": ["#000000", "#ff0000", "#00ff00", "#0000ff", "#00ffff"]},
      "legend": {"title": null, "orient": "none", "legendX": 215.5, "legendY": -31, "strokeColor": "black", "padding": 11, "symbolType": "M-3,0H3", "symbolSize": 107, "symbolStrokeWidth": 1, "symbolOffset": 10, "labelOffset": 14, "labelFont": "Liberation Sans", "labelFontSize": 14.5, "labelFontWeight": "bold", "labelColor": "black", "rowPadding": 4.5, "labelLimit": 400}},
    "order": {"field": "w", "type": "quantitative"}
  }
}
